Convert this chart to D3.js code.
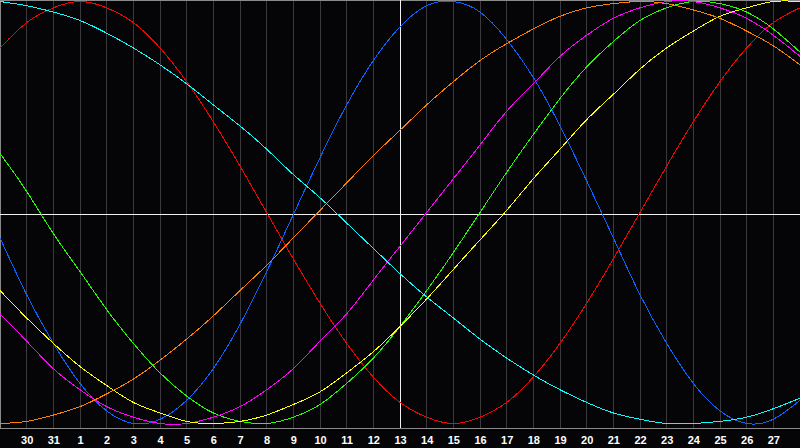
<!DOCTYPE html>
<html>
<head>
<meta charset="utf-8">
<script src="https://cdn.jsdelivr.net/npm/d3@7"></script>
<style>
html,body{margin:0;padding:0;background:#050508;overflow:hidden;}
svg{display:block;}
</style>
</head>
<body>
<svg id="chart" width="800" height="448"></svg>
<script>
// Day labels (index 0 = day 29 of previous month, not labelled)
const dayLabels = ["29","30","31","1","2","3","4","5","6","7","8","9","10","11","12","13","14","15","16","17","18","19","20","21","22","23","24","25","26","27","28"];
const todayIndex = 15; // day 13

// Values read at each day gridline (index 0..30)
const physical = [-0.12,-0.39,-0.62,-0.81,-0.94,-1.00,-0.98,-0.89,-0.74,-0.53,-0.28,-0.01,0.26,0.51,0.72,0.88,0.98,1.00,0.95,0.82,0.64,0.41,0.15,-0.12,-0.39,-0.62,-0.81,-0.94,-1.00,-0.98,-0.89];
const emotional = [0.78,0.90,0.97,1.00,0.97,0.90,0.78,0.62,0.43,0.22,0.00,-0.22,-0.43,-0.62,-0.78,-0.90,-0.97,-1.00,-0.97,-0.90,-0.78,-0.62,-0.43,-0.22,0.00,0.22,0.43,0.62,0.78,0.90,0.97];
const intellectual = [0.28,0.10,-0.10,-0.28,-0.46,-0.62,-0.76,-0.87,-0.95,-0.99,-1.00,-0.97,-0.91,-0.81,-0.69,-0.54,-0.37,-0.19,0.00,0.19,0.37,0.54,0.69,0.81,0.91,0.97,1.00,0.99,0.95,0.87,0.76];
const intuitive = [-0.48,-0.61,-0.74,-0.84,-0.92,-0.97,-1.00,-1.00,-0.97,-0.92,-0.84,-0.74,-0.61,-0.48,-0.32,-0.16,0.00,0.16,0.32,0.48,0.61,0.74,0.84,0.92,0.97,1.00,1.00,0.97,0.92,0.84,0.74];
const aesthetic = [-0.37,-0.50,-0.62,-0.73,-0.82,-0.90,-0.95,-0.99,-1.00,-0.99,-0.96,-0.91,-0.85,-0.76,-0.66,-0.54,-0.41,-0.27,-0.13,0.01,0.16,0.30,0.44,0.56,0.68,0.78,0.86,0.93,0.97,1.00,1.00];
const awareness = [-1.00,-0.99,-0.96,-0.92,-0.86,-0.79,-0.70,-0.60,-0.49,-0.37,-0.25,-0.12,0.01,0.14,0.27,0.39,0.51,0.62,0.72,0.80,0.87,0.93,0.97,0.99,1.00,0.99,0.96,0.92,0.86,0.79,0.70];
const spiritual = [1.00,0.98,0.95,0.91,0.85,0.78,0.70,0.61,0.51,0.41,0.30,0.18,0.07,-0.05,-0.17,-0.29,-0.40,-0.50,-0.60,-0.69,-0.77,-0.84,-0.90,-0.95,-0.98,-1.00,-1.00,-0.99,-0.97,-0.93,-0.88];

const seriesNames = ["physical","emotional","intellectual","intuitive","aesthetic","awareness","spiritual"];
const seriesValues = [physical, emotional, intellectual, intuitive, aesthetic, awareness, spiritual];
const seriesColors = ["#0a64ff","#ff0000","#22ff00","#ff00ff","#ffff00","#ff8000","#00ffff"];

const W = 800, H = 448, plotBottom = 428;
const svg = d3.select("#chart");

const x = d3.scaleLinear().domain([0, dayLabels.length - 1]).range([0, W]);
const y = d3.scaleLinear().domain([-1, 1]).range([423.5, 1.5]);

svg.append("rect").attr("width", W).attr("height", H).attr("fill", "#050508");

// vertical gridlines
const gridIdx = d3.range(1, dayLabels.length - 1);
svg.append("g").selectAll("line").data(gridIdx).join("line")
  .attr("x1", d => Math.floor(x(d)) + 0.5).attr("x2", d => Math.floor(x(d)) + 0.5)
  .attr("y1", 0).attr("y2", plotBottom)
  .attr("stroke", "#3a3a3e").attr("stroke-width", 1)
  .attr("shape-rendering", "crispEdges");

// frame
svg.append("line").attr("x1", 0.5).attr("x2", 0.5).attr("y1", 0).attr("y2", plotBottom)
  .attr("stroke", "#8a8a8a").attr("shape-rendering", "crispEdges");
svg.append("line").attr("x1", 0).attr("x2", W).attr("y1", 0.5).attr("y2", 0.5)
  .attr("stroke", "#8a8a8a").attr("shape-rendering", "crispEdges");

// zero line and today line
svg.append("line").attr("x1", 0).attr("x2", W).attr("y1", 214.5).attr("y2", 214.5)
  .attr("stroke", "#f0f0f0").attr("shape-rendering", "crispEdges");
svg.append("line").attr("x1", Math.floor(x(todayIndex)) + 0.5).attr("x2", Math.floor(x(todayIndex)) + 0.5)
  .attr("y1", 0).attr("y2", plotBottom)
  .attr("stroke", "#f0f0f0").attr("shape-rendering", "crispEdges");

// curves
const line = d3.line().x((d, i) => x(i)).y(d => y(d)).curve(d3.curveNatural);
svg.append("g").selectAll("path").data(seriesValues).join("path")
  .attr("d", d => line(d))
  .attr("fill", "none")
  .attr("stroke", (d, i) => seriesColors[i])
  .attr("stroke-width", 1)
  .attr("shape-rendering", "crispEdges");

// bottom axis line
svg.append("line").attr("x1", 0).attr("x2", W).attr("y1", plotBottom + 0.5).attr("y2", plotBottom + 0.5)
  .attr("stroke", "#8a8a8a").attr("shape-rendering", "crispEdges");

// day labels
const axis = d3.axisBottom(x).tickValues(gridIdx).tickSize(0).tickPadding(0)
  .tickFormat(d => dayLabels[d]);
const gAxis = svg.append("g").attr("transform", `translate(0,${plotBottom})`).call(axis);
gAxis.select(".domain").remove();
gAxis.selectAll("text")
  .attr("y", 15.5).attr("dy", null)
  .attr("fill", "#ffffff")
  .style("font-family", "'Liberation Sans', Arial, sans-serif")
  .style("font-size", "11px")
  .style("font-weight", "bold");
</script>
</body>
</html>
